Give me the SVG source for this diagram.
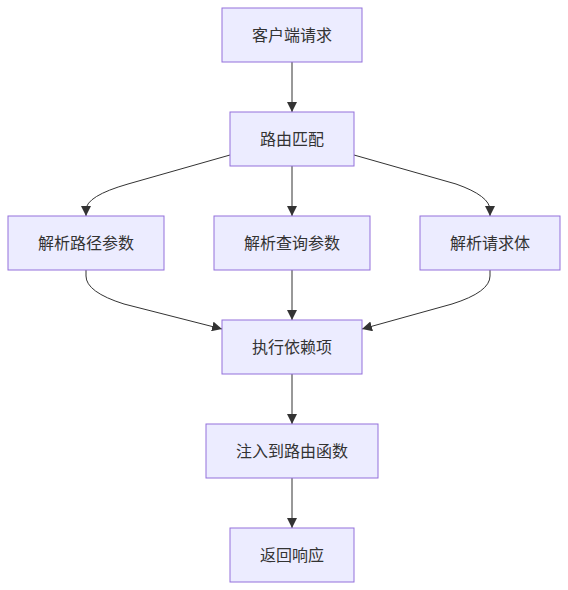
<svg xmlns="http://www.w3.org/2000/svg" width="568" height="590" viewBox="0 0 568 590">
<style>
.node rect{fill:#ECECFF;stroke:#9370DB;stroke-width:1}
.node text{font-family:"Liberation Sans","Noto Sans CJK SC",sans-serif;font-size:16px;fill:#333;text-anchor:middle;dominant-baseline:central}
.edge{fill:none;stroke:#333;stroke-width:1}
</style>
<defs>
<marker id="arr" viewBox="0 0 10 10" refX="10" refY="5" markerWidth="10" markerHeight="10" markerUnits="userSpaceOnUse" orient="auto">
<path d="M0,0 L10,5 L0,10 z" fill="#333"/>
</marker>
</defs>
<rect width="568" height="590" fill="#fff"/>
<g id="edges">
<path class="edge" d="M292,62 L292,112" marker-end="url(#arr)"/>
<path class="edge" d="M230,155 L128,184 Q86,196 86,210 L86,216" marker-end="url(#arr)"/>
<path class="edge" d="M292,166 L292,216" marker-end="url(#arr)"/>
<path class="edge" d="M354,155 L456,184 Q490,196 490,210 L490,216" marker-end="url(#arr)"/>
<path class="edge" d="M86,270 L86,276 Q86,292 124,304 L222,329" marker-end="url(#arr)"/>
<path class="edge" d="M292,270 L292,320" marker-end="url(#arr)"/>
<path class="edge" d="M490,270 L490,276 Q490,292 452,304 L362,329" marker-end="url(#arr)"/>
<path class="edge" d="M292,374 L292,424" marker-end="url(#arr)"/>
<path class="edge" d="M292,478 L292,528" marker-end="url(#arr)"/>
</g>
<g id="n1" class="node"><rect x="222" y="8" width="140" height="54"/><text x="292" y="35">客户端请求</text></g>
<g id="n2" class="node"><rect x="230" y="112" width="124" height="54"/><text x="292" y="139">路由匹配</text></g>
<g id="n3" class="node"><rect x="8" y="216" width="156" height="54"/><text x="86" y="243">解析路径参数</text></g>
<g id="n4" class="node"><rect x="214" y="216" width="156" height="54"/><text x="292" y="243">解析查询参数</text></g>
<g id="n5" class="node"><rect x="420" y="216" width="140" height="54"/><text x="490" y="243">解析请求体</text></g>
<g id="n6" class="node"><rect x="222" y="320" width="140" height="54"/><text x="292" y="347">执行依赖项</text></g>
<g id="n7" class="node"><rect x="206" y="424" width="172" height="54"/><text x="292" y="451">注入到路由函数</text></g>
<g id="n8" class="node"><rect x="230" y="528" width="124" height="54"/><text x="292" y="555">返回响应</text></g>
</svg>
